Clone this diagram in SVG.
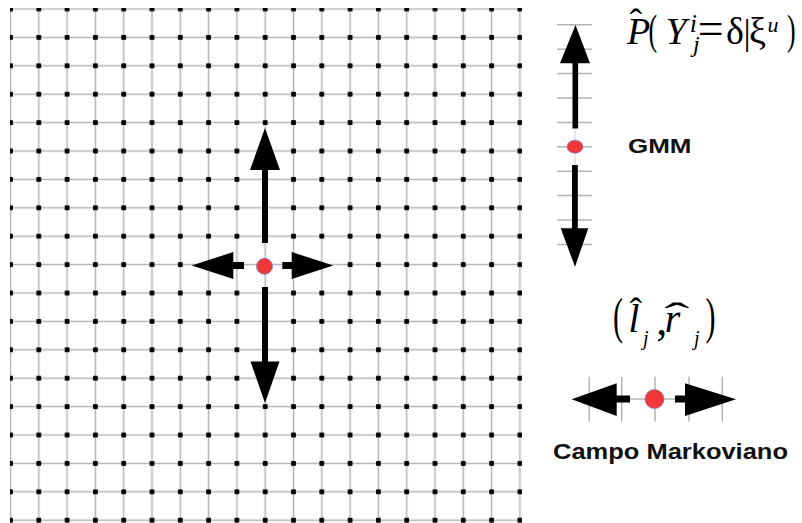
<svg xmlns="http://www.w3.org/2000/svg" width="802" height="523" viewBox="0 0 802 523">
<style>
.m{font-family:"Liberation Serif","Times New Roman",serif;fill:#000}
.it{font-style:italic}
.lbl{font-family:"Liberation Sans",Arial,sans-serif;font-weight:bold;fill:#111}
.gl{stroke:#b4b4b4;stroke-width:1.5}
.red{fill:#f03838;stroke:#8080c0;stroke-width:0.8}
.arr{fill:#000}
</style>
<defs>
<pattern id="gridp" patternUnits="userSpaceOnUse" x="-3.65" y="-5.2" width="28.3" height="28.4">
<line x1="0" y1="14.2" x2="28.3" y2="14.2" class="gl"/>
<line x1="14.15" y1="0" x2="14.15" y2="28.4" class="gl"/>
<rect x="11.75" y="11.8" width="4.8" height="4.8" rx="0.8" fill="#000"/>
</pattern>
<clipPath id="gclip"><rect x="10" y="8" width="512" height="515"/></clipPath>
</defs>
<rect width="802" height="523" fill="#fff"/>
<g id="grid" clip-path="url(#gclip)">
<rect x="0" y="0" width="540" height="523" fill="url(#gridp)"/>
</g>
<g id="center-node">
<circle cx="264.5" cy="266.3" r="8" class="red"/>
</g>
<g id="connectors">
<rect x="262" y="166" width="6" height="77" class="arr"/>
<polygon points="265,128 250,170 280,170" class="arr"/>
<rect x="262" y="287" width="6" height="77" class="arr"/>
<polygon points="265,403 250.5,361.5 279.5,361.5" class="arr"/>
<rect x="229" y="262" width="15" height="7" class="arr"/>
<polygon points="191.7,265.5 233.3,252 233.3,279" class="arr"/>
<rect x="282.3" y="262" width="13" height="7" class="arr"/>
<polygon points="333.3,265.5 291.7,252 291.7,279" class="arr"/>
</g>
<g id="gmm-legend">
<line x1="575" y1="25" x2="575" y2="266" stroke="#d0d0d0" stroke-width="1"/>
<g class="gl" stroke-width="1.2">
<line x1="557" y1="24.8" x2="592" y2="24.8"/>
<line x1="557" y1="49.2" x2="592" y2="49.2"/>
<line x1="557" y1="73.6" x2="592" y2="73.6"/>
<line x1="557" y1="98" x2="592" y2="98"/>
<line x1="557" y1="122.4" x2="592" y2="122.4"/>
<line x1="557" y1="146.8" x2="592" y2="146.8"/>
<line x1="557" y1="171.2" x2="592" y2="171.2"/>
<line x1="557" y1="195.6" x2="592" y2="195.6"/>
<line x1="557" y1="220" x2="592" y2="220"/>
<line x1="557" y1="244.4" x2="592" y2="244.4"/>
</g>
<rect x="572.5" y="60" width="5.6" height="68.5" class="arr"/>
<polygon points="575.5,25 560,63.3 590,63.3" class="arr"/>
<ellipse cx="575" cy="146.7" rx="8" ry="6.5" class="red"/>
<rect x="572" y="165" width="5.8" height="66" class="arr"/>
<polygon points="575,266.7 560.7,228.3 588.3,228.3" class="arr"/>
<text x="628" y="153.3" class="lbl" font-size="21" textLength="63.5" lengthAdjust="spacingAndGlyphs">GMM</text>
</g>
<g id="formula-p">
<text x="627" y="43.5" class="m it" font-size="38">P</text>
<text x="629.5" y="35" class="m" font-size="38">ˆ</text>
<text transform="translate(648.5,44) scale(0.6,1)" class="m" font-size="43">(</text>
<text x="665.5" y="43.5" class="m it" font-size="38">Y</text>
<text x="689.7" y="31.5" class="m it" font-size="26">i</text>
<text x="693" y="52.4" class="m it" font-size="24">j</text>
<text x="697.8" y="43.9" class="m" font-size="46">=</text>
<text x="726" y="43.5" class="m" font-size="38">δ</text>
<text x="743.6" y="43.5" class="m" font-size="36">|</text>
<text x="749" y="43.5" class="m" font-size="38">ξ</text>
<text x="767.5" y="31.9" class="m it" font-size="22">u</text>
<text transform="translate(787,44) scale(0.6,1)" class="m" font-size="43">)</text>
</g>
<g id="formula-lr">
<text transform="translate(613,333) scale(0.6,1)" class="m" font-size="50">(</text>
<text x="628.4" y="331.7" class="m it" font-size="39">l</text>
<text x="629.6" y="324.3" class="m" font-size="38">ˆ</text>
<text x="643" y="344.8" class="m it" font-size="20">j</text>
<text x="656.2" y="334.5" class="m" font-size="44">,</text>
<text x="664.7" y="331.7" class="m it" font-size="40">r</text>
<text transform="translate(665,329.3) scale(2,1)" x="-0.4" class="m" font-size="38">ˆ</text>
<text x="694" y="344.8" class="m it" font-size="20">j</text>
<text transform="translate(705.5,333) scale(0.6,1)" class="m" font-size="50">)</text>
</g>
<g id="markov-legend">
<g class="gl" stroke-width="1.2">
<line x1="589.3" y1="376.7" x2="589.3" y2="421.7"/>
<line x1="621.7" y1="376.7" x2="621.7" y2="421.7"/>
<line x1="655" y1="376.7" x2="655" y2="421.7"/>
<line x1="689" y1="376.7" x2="689" y2="421.7"/>
<line x1="722.3" y1="376.7" x2="722.3" y2="421.7"/>
<line x1="580" y1="399" x2="730" y2="399"/>
</g>
<rect x="612" y="395.5" width="18" height="7" class="arr"/>
<polygon points="571.7,399.3 616.7,383.3 616.7,416" class="arr"/>
<circle cx="654.5" cy="399" r="9.5" class="red"/>
<rect x="675" y="395.5" width="14" height="7" class="arr"/>
<polygon points="736,399.3 685,383.3 685,416" class="arr"/>
<text x="553" y="459.3" class="lbl" font-size="22" textLength="235" lengthAdjust="spacingAndGlyphs">Campo Markoviano</text>
</g>
</svg>
